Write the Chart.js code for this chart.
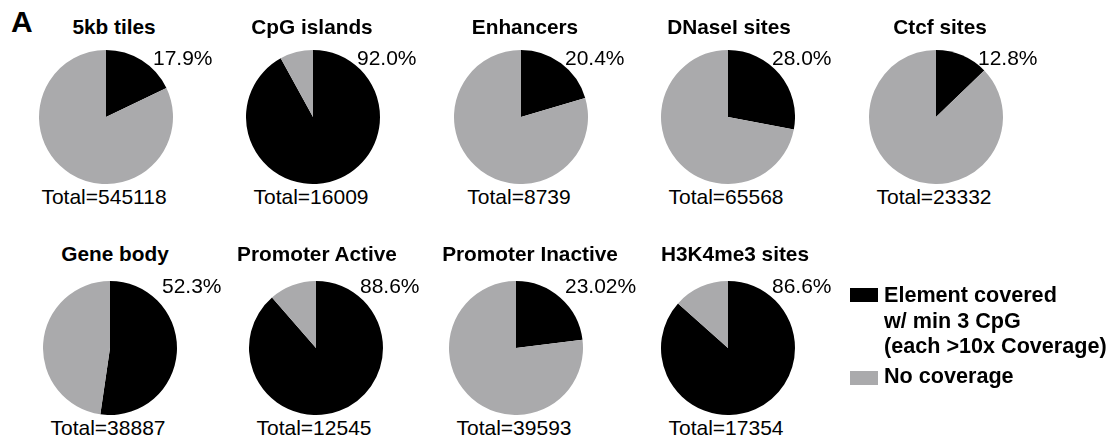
<!DOCTYPE html>
<html>
<head>
<meta charset="utf-8">
<script src="https://cdn.jsdelivr.net/npm/chart.js@4/dist/chart.umd.min.js"></script>
<style>
  html, body { margin: 0; padding: 0; background: #ffffff; }
  #fig { position: relative; width: 1114px; height: 442px; overflow: hidden;
         font-family: "Liberation Sans", Arial, Helvetica, sans-serif; color: #000; }
  .pie { position: absolute; }
  .t { position: absolute; white-space: nowrap; }
  .title { font-weight: bold; font-size: 20.8px; transform: translateX(-50%); }
  .pct { font-size: 21px; }
  .total { font-size: 21px; transform: translateX(-50%); }
  .panel-letter { font-weight: bold; font-size: 30px; }
  .legend { position: absolute; font-weight: bold; font-size: 21.6px; line-height: 25.5px; white-space: nowrap; }
  .swatch { position: absolute; width: 28px; height: 14px; }
</style>
</head>
<body>
<div id="fig"></div>
<script>
// Genomic element categories, one pie each
const panelNames = ['5kb tiles', 'CpG islands', 'Enhancers', 'DNaseI sites', 'Ctcf sites',
                    'Gene body', 'Promoter Active', 'Promoter Inactive', 'H3K4me3 sites'];
// Percent of elements covered (as printed)
const coveredPctText = ['17.9', '92.0', '20.4', '28.0', '12.8', '52.3', '88.6', '23.02', '86.6'];
const coveredPct = coveredPctText.map(Number);
// Element counts per category
const totals = [545118, 16009, 8739, 65568, 23332, 38887, 12545, 39593, 17354];
// Series
const seriesNames = ['Element covered w/ min 3 CpG (each >10x Coverage)', 'No coverage'];
const seriesColors = ['#000000', '#aaaaac'];

// Panel placement: pie centre, title centre, percent label left edge
const RADIUS = 67;
const layout = [
  { cx: 106, cy: 116.7, tx: 114, px: 153 },
  { cx: 313, cy: 116.7, tx: 312, px: 357 },
  { cx: 521, cy: 116.7, tx: 525, px: 565 },
  { cx: 728, cy: 116.7, tx: 729, px: 772 },
  { cx: 936, cy: 116.7, tx: 940, px: 978 },
  { cx: 110, cy: 348.4, tx: 115, px: 162 },
  { cx: 316, cy: 348.4, tx: 317, px: 360 },
  { cx: 516, cy: 348.4, tx: 530, px: 565 },
  { cx: 728, cy: 348.4, tx: 735, px: 772 }
];
// Text baselines per row (title, percent, total)
const rowBaselines = [
  { title: 34.3, pct: 65, total: 203.3 },
  { title: 261.7, pct: 293, total: 435 }
];

const fig = document.getElementById('fig');
const ASC = 0.8465; // baseline offset inside a line box equal to the font size

function addText(cls, text, x, baseline, size) {
  const d = document.createElement('div');
  d.className = 't ' + cls;
  d.textContent = text;
  d.style.left = x + 'px';
  d.style.lineHeight = size + 'px';
  d.style.top = (baseline - ASC * size) + 'px';
  fig.appendChild(d);
  return d;
}

// Panel letter
addText('panel-letter', 'A', 11, 32, 30);

panelNames.forEach((name, i) => {
  const L = layout[i];
  const row = rowBaselines[i < 5 ? 0 : 1];

  const canvas = document.createElement('canvas');
  canvas.className = 'pie';
  canvas.width = RADIUS * 2;
  canvas.height = RADIUS * 2;
  canvas.style.left = (L.cx - RADIUS) + 'px';
  canvas.style.top = (L.cy - RADIUS) + 'px';
  canvas.style.width = RADIUS * 2 + 'px';
  canvas.style.height = RADIUS * 2 + 'px';
  fig.appendChild(canvas);

  new Chart(canvas, {
    type: 'pie',
    data: {
      labels: seriesNames,
      datasets: [{
        data: [coveredPct[i], 100 - coveredPct[i]],
        backgroundColor: seriesColors,
        borderWidth: 0
      }]
    },
    options: {
      responsive: false,
      animation: false,
      layout: { padding: 0 },
      plugins: { legend: { display: false }, tooltip: { enabled: false } }
    }
  });

  addText('title', name, L.tx, row.title, 20.8);
  addText('pct', coveredPctText[i] + '%', L.px, row.pct, 21);
  addText('total', 'Total=' + totals[i], L.cx - 2, row.total, 21);
});

// Legend
const sw1 = document.createElement('div');
sw1.className = 'swatch';
sw1.style.cssText = 'left:850px;top:288px;background:' + seriesColors[0];
fig.appendChild(sw1);
const lg1 = document.createElement('div');
lg1.className = 'legend';
lg1.style.left = '884px';
lg1.style.top = '282px';
lg1.innerHTML = 'Element covered<br>w/ min 3 CpG<br>(each &gt;10x Coverage)';
fig.appendChild(lg1);

const sw2 = document.createElement('div');
sw2.className = 'swatch';
sw2.style.cssText = 'left:850px;top:371px;background:' + seriesColors[1];
fig.appendChild(sw2);
const lg2 = document.createElement('div');
lg2.className = 'legend';
lg2.style.left = '884px';
lg2.style.top = (383 - 19.9) + 'px';
lg2.textContent = seriesNames[1];
fig.appendChild(lg2);
</script>
</body>
</html>
